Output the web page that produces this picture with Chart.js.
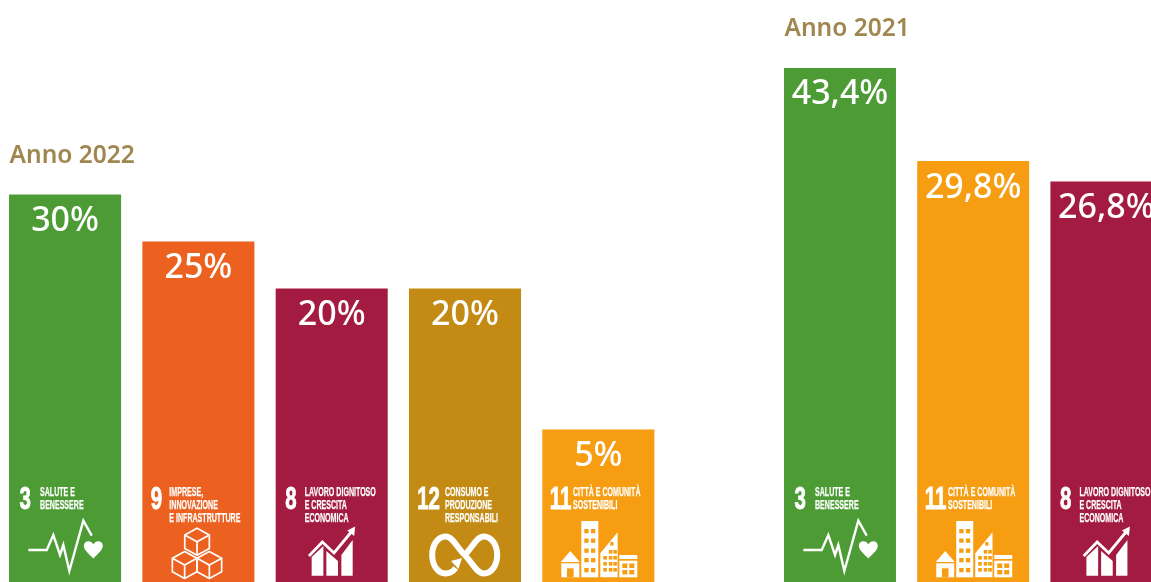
<!DOCTYPE html>
<html><head><meta charset="utf-8">
<script src="https://cdn.jsdelivr.net/npm/chart.js@4"></script>
<style>
html,body{margin:0;padding:0;background:#fff;overflow:hidden;width:1151px;height:582px}
#wrap{position:relative;width:1151px;height:582px;overflow:hidden}
canvas{position:absolute;top:0}
</style></head><body>
<div id="wrap">
<canvas id="c22" style="left:-2px"></canvas>
<canvas id="c21" style="left:773px"></canvas>
</div>
<script>
const title2022 = "Anno 2022";
const goals2022 = [3, 9, 8, 12, 11];
const values2022 = [30, 25, 20, 20, 5];
const title2021 = "Anno 2021";
const goals2021 = [3, 11, 8];
const values2021 = [43.4, 29.8, 26.8];
const goalNames = {
  3: ["SALUTE E", "BENESSERE"],
  8: ["LAVORO DIGNITOSO", "E CRESCITA", "ECONOMICA"],
  9: ["IMPRESE,", "INNOVAZIONE", "E INFRASTRUTTURE"],
  11: ["CITTÀ E COMUNITÀ", "SOSTENIBILI"],
  12: ["CONSUMO E", "PRODUZIONE", "RESPONSABILI"]
};
const goalColors = {3:"#4C9B35", 8:"#A31B41", 9:"#EC6120", 11:"#F69D11", 12:"#C38B14"};
const goalStyle = {
  3:{nx:10.5,tx:31}, 8:{nx:9.5,tx:29}, 9:{nx:8.5,tx:27}, 11:{nx:7.5,tx:30.7}, 12:{nx:8.2,tx:36}
};

function poly(c, pts){ c.beginPath(); pts.forEach((p,i)=> i?c.lineTo(p[0],p[1]):c.moveTo(p[0],p[1])); }
const icons = {
  3(c){
    c.lineWidth=2.4; c.lineJoin="miter"; c.lineCap="butt";
    poly(c,[[19.3,80],[37.7,80],[44.3,65],[51,85],[54.3,75],[60.3,101],[74.3,50.7],[82.7,65.7]]); c.stroke();
    c.beginPath(); c.moveTo(84.3,88.5);
    c.bezierCurveTo(80,84,74.8,80,74.8,75.8);
    c.bezierCurveTo(74.8,70.5,81.8,69.5,84.3,74.5);
    c.bezierCurveTo(86.8,69.5,93.8,70.5,93.8,75.8);
    c.bezierCurveTo(93.8,80,88.6,84,84.3,88.5); c.fill();
  },
  9(c){
    c.lineWidth=1.7; c.lineJoin="round";
    const cube=(x,y)=>{ const w=12.3,r=13.5;
      poly(c,[[x,y-r],[x+w,y-r/2],[x+w,y+r/2],[x,y+r],[x-w,y+r/2],[x-w,y-r/2]]); c.closePath(); c.stroke();
      poly(c,[[x-w,y-r/2],[x,y],[x+w,y-r/2]]); c.stroke();
      poly(c,[[x,y],[x,y+r]]); c.stroke(); };
    cube(54.7,71.7); cube(42.3,95); cube(67,95);
  },
  8(c){
    poly(c,[[36,87],[47.7,76],[47.7,105.7],[36,105.7]]); c.fill();
    poly(c,[[50.7,81],[62.3,91],[62.3,105.7],[50.7,105.7]]); c.fill();
    poly(c,[[65.7,85],[77,70],[77,105.7],[65.7,105.7]]); c.fill();
    c.lineWidth=2.8; c.lineJoin="miter";
    poly(c,[[33.3,86],[46.7,72],[58.3,83],[76,61.5]]); c.stroke();
    poly(c,[[79.5,56.5],[78.5,66],[71.5,60.5]]); c.closePath(); c.fill();
  },
  12(c){
    const x=55.7,y=85;
    c.lineWidth=6;
    c.beginPath(); c.moveTo(x,y);
    c.bezierCurveTo(x+8,y-8,x+12,y-18.5,x+19,y-18.5);
    c.bezierCurveTo(x+27,y-18.5,x+32.5,y-10,x+32.5,y);
    c.bezierCurveTo(x+32.5,y+10,x+27,y+18.5,x+19,y+18.5);
    c.bezierCurveTo(x+12,y+18.5,x+8,y+8,x,y);
    c.bezierCurveTo(x-8,y-8,x-12,y-18.5,x-19,y-18.5);
    c.bezierCurveTo(x-27,y-18.5,x-32.5,y-10,x-32.5,y);
    c.bezierCurveTo(x-32.5,y+10,x-27,y+18.5,x-19,y+18.5);
    c.bezierCurveTo(x-15,y+18.5,x-12,y+17,x-9,y+13);
    c.stroke();
    poly(c,[[42,91],[53,88],[49.5,99]]); c.closePath(); c.fill();
  },
  11(c, bg){
    poly(c,[[28,81],[18.5,92],[37.5,92]]); c.closePath(); c.fill();
    c.fillRect(19,93.3,18,14);
    c.fillRect(39,51,17,56.3);
    poly(c,[[58,83.3],[75.3,62.3],[75.3,107.3],[58,107.3]]); c.closePath(); c.fill();
    c.fillRect(77,85,18,4);
    c.fillRect(77,90.7,18,16.6);
    c.fillStyle=bg;
    c.fillRect(24.7,98.3,6.6,9);
    [59,68.5,78.5,88,98].forEach(y=>{ c.fillRect(42,y,4.3,4.3); c.fillRect(48.7,y,4.3,4.3); });
    [80,86,92,98].forEach((y,i)=>{ [61,66.5,71].forEach((x,j)=>{ if(!(i===0&&j===0)) c.fillRect(x,y,3.6,3.6); }); });
    c.fillRect(68,72,3.2,3.6);
    [93.5,100].forEach(y=>{ c.fillRect(80,y,5,4.5); c.fillRect(87,y,5,4.5); });
  }
};

const sdgPlugin = {
  id:"sdgLabels",
  afterDatasetsDraw(chart, args, opts){
    const c = chart.ctx, meta = chart.getDatasetMeta(0);
    meta.data.forEach((bar,i)=>{
      const g = opts.goals[i], left = bar.x - bar.width/2, origin = bar.base - 112;
      c.save();
      c.fillStyle="#fff"; c.strokeStyle="#fff"; c.textAlign="center"; c.textBaseline="alphabetic";
      c.font='500 34px "Noto Sans"';
      c.fillText(String(chart.data.datasets[0].data[i]).replace(".",",")+"%", bar.x, bar.y+36.5);
      c.textAlign="left";
      const st = goalStyle[g];
      c.save(); c.translate(left+st.nx, origin+39); c.scale(0.66,1);
      c.font='bold 31px "Liberation Sans"'; c.fillText(String(g),0,0);
      c.lineWidth=0.9; c.strokeText(String(g),0,0); c.restore();
      goalNames[g].forEach((ln,k)=>{
        c.save(); c.translate(left+st.tx, origin+26+k*13); c.scale(0.565,1);
        c.font='bold 12.5px "Liberation Sans"'; c.fillText(ln,0,0);
        c.lineWidth=0.25; c.strokeText(ln,0,0); c.restore();
      });
      c.translate(left, origin);
      icons[g](c, goalColors[g]);
      c.restore();
      if(i===0){
        c.save(); c.fillStyle="#A08750"; c.textAlign="left";
        c.font='600 24.5px "Noto Sans"';
        c.fillText(opts.title, left+0.5, bar.y-32);
        c.restore();
      }
    });
  }
};

function makeChart(id, w, goals, values, title, yMin, yMax){
  const el = document.getElementById(id);
  return new Chart(el,{
    type:"bar",
    data:{labels:goals.map(g=>goalNames[g].join(" ")),
      datasets:[{data:values, base:yMin, backgroundColor:goals.map(g=>goalColors[g]),
        borderWidth:0, barPercentage:1, categoryPercentage:112/133.25}]},
    options:{responsive:false, animation:false, devicePixelRatio:1,
      layout:{padding:{left:0.4,right:0,top:0,bottom:0}},
      plugins:{legend:{display:false},tooltip:{enabled:false},title:{display:false},
        sdgLabels:{goals,title}},
      scales:{x:{display:false},y:{display:false,min:yMin,max:yMax}}},
    plugins:[sdgPlugin]
  });
}
function size(id,w){const el=document.getElementById(id);el.width=w;el.height=582;el.style.width=w+"px";el.style.height="582px";}
size("c22",667); size("c21",400);
makeChart("c22",667,goals2022,values2022,title2022,-11.22,50.69);
makeChart("c21",400,goals2021,values2021,title2021,-31.74,53.34);
</script>
</body></html>
